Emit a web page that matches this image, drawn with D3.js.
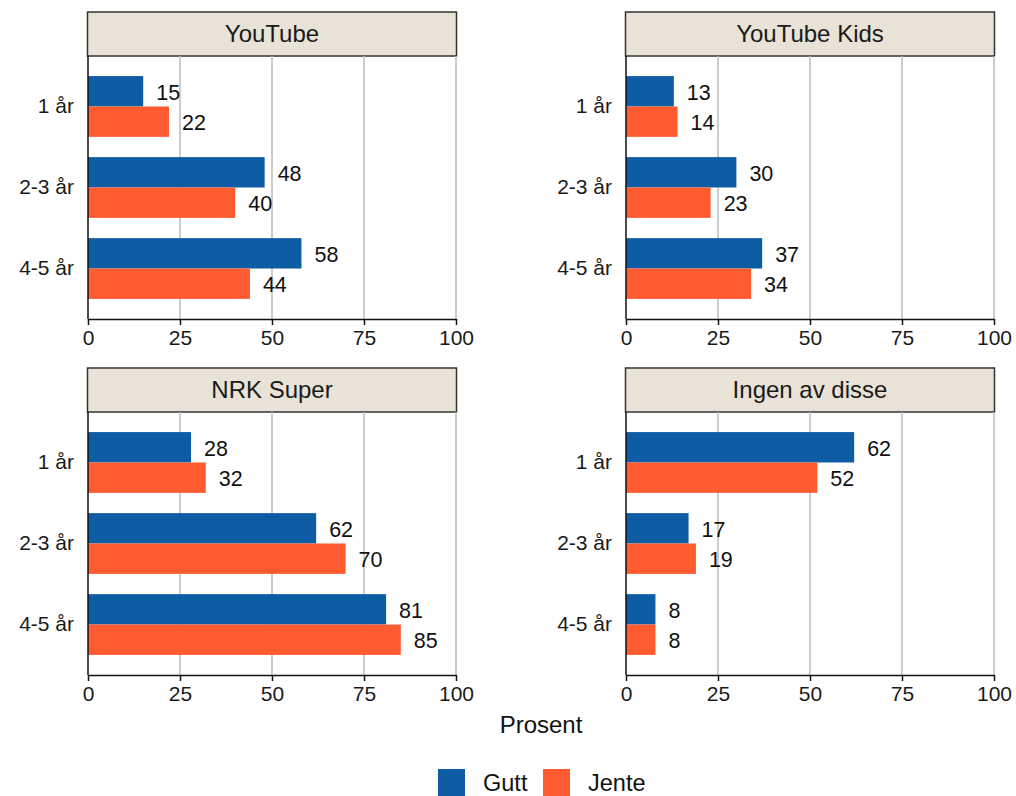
<!DOCTYPE html>
<html><head><meta charset="utf-8">
<script src="https://cdn.jsdelivr.net/npm/d3@7"></script>
<style>body{margin:0;background:#fff}svg{display:block;font-family:"Liberation Sans",Arial,sans-serif}</style>
</head><body><svg id="c" width="1016" height="796"></svg>
<script>
const categories = ["1 år", "2-3 år", "4-5 år"];
const panels = ["YouTube", "YouTube Kids", "NRK Super", "Ingen av disse"];
const series = ["Gutt", "Jente"];
const gutt = [[15, 48, 58], [13, 30, 37], [28, 62, 81], [62, 17, 8]];
const jente = [[22, 40, 44], [14, 23, 34], [32, 70, 85], [52, 19, 8]];
const xTicks = [0, 25, 50, 75, 100];
const colors = {Gutt: "#0E5CA4", Jente: "#FF5B31"};

const svg = d3.select("#c");
const cols = [[88, 456], [626, 994]];
const rows = [{s0: 12, p0: 56, p1: 319}, {s0: 368, p0: 412, p1: 675}];

panels.forEach((name, i) => {
  const [x0, x1] = cols[i % 2];
  const r = rows[Math.floor(i / 2)];
  const g = svg.append("g");
  const x = d3.scaleLinear().domain([0, 100]).range([x0, x1]);
  const y = d3.scaleBand().domain(categories).range([r.p0, r.p1]).paddingInner(0.25).paddingOuter(0.248);
  const ys = d3.scaleBand().domain(series).range([0, y.bandwidth()]);

  // strip
  g.append("rect").attr("x", x0 - 0.5).attr("y", r.s0).attr("width", x1 - x0 + 1).attr("height", r.p0 - r.s0)
    .attr("fill", "#E8E2D7").attr("stroke", "#333").attr("stroke-width", 1.5);
  g.append("text").attr("x", (x0 + x1) / 2).attr("y", (r.s0 + r.p0) / 2).attr("dy", "0.35em")
    .attr("text-anchor", "middle").attr("font-size", 24).attr("fill", "#1a1a1a").text(name);

  // grid
  g.selectAll(".grid").data(xTicks.slice(1)).enter().append("line")
    .attr("x1", d => x(d)).attr("x2", d => x(d)).attr("y1", r.p0).attr("y2", r.p1)
    .attr("stroke", "#BDBDBD").attr("stroke-width", 1.5);

  // bars
  const rowsData = [];
  categories.forEach((c, k) => {
    rowsData.push({c, s: "Gutt", v: gutt[i][k]});
    rowsData.push({c, s: "Jente", v: jente[i][k]});
  });
  g.selectAll(".bar").data(rowsData).enter().append("rect")
    .attr("x", x(0)).attr("y", d => y(d.c) + ys(d.s))
    .attr("width", d => x(d.v) - x(0)).attr("height", ys.bandwidth())
    .attr("fill", d => colors[d.s]);
  g.selectAll(".lbl").data(rowsData).enter().append("text")
    .attr("x", d => x(d.v) + 13).attr("y", d => y(d.c) + ys(d.s) + ys.bandwidth() / 2 + 1)
    .attr("dy", "0.35em").attr("font-size", 21.5).attr("fill", "#111").text(d => d.v);

  // y axis
  const ya = g.append("g").attr("transform", `translate(${x0},0)`)
    .call(d3.axisLeft(y).tickSize(0).tickPadding(14));
  ya.select(".domain").attr("stroke", "#111").attr("stroke-width", 1.5).attr("d", `M0,${r.p0}V${r.p1}`);
  ya.selectAll("text").attr("font-size", 21).attr("fill", "#1a1a1a").attr("font-family", null);

  // x axis
  const xa = g.append("g").attr("transform", `translate(0,${r.p1})`)
    .call(d3.axisBottom(x).tickValues(xTicks).tickSize(6).tickPadding(5).tickSizeOuter(0));
  xa.select(".domain").attr("stroke", "#111").attr("stroke-width", 1.5);
  xa.selectAll(".tick line").attr("stroke", "#111").attr("stroke-width", 1.5);
  xa.selectAll("text").attr("font-size", 21).attr("fill", "#1a1a1a").attr("font-family", null);
});

svg.append("text").attr("x", 541).attr("y", 733).attr("text-anchor", "middle")
  .attr("font-size", 24).attr("fill", "#111").text("Prosent");

const leg = svg.append("g");
const legX = [438, 543];
series.forEach((s, k) => {
  leg.append("rect").attr("x", legX[k]).attr("y", 769).attr("width", 27).attr("height", 27).attr("fill", colors[s]);
  leg.append("text").attr("x", legX[k] + 45).attr("y", 783).attr("dy", "0.35em")
    .attr("font-size", 23.5).attr("fill", "#111").text(s);
});
</script></body></html>
